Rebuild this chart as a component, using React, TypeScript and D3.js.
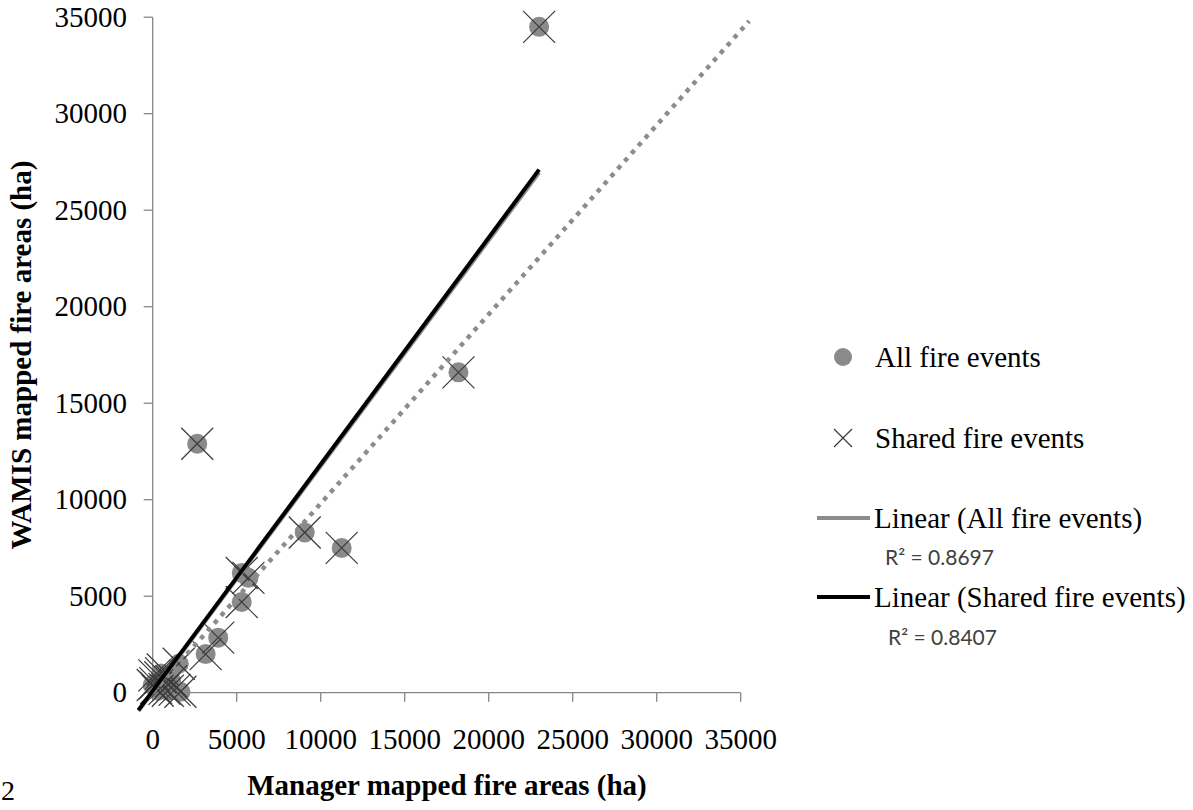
import React from "react";
import * as d3 from "d3";

// All fire events (manager ha, WAMIS ha)
const allX = [23000, 18200, 2650, 9050, 11250, 5300, 5700, 5300, 3900, 3150, 1550, 500, 1650, 900, 0, 150, 300, 450, 700, 1100, 1300, 200];
const allY = [34500, 16600, 12900, 8300, 7500, 6200, 5950, 4700, 2850, 2000, 1500, 1000, 50, 100, 400, 500, 100, 800, 200, 600, 150, 250];
// Shared fire events
const sharedX = [23000, 18200, 2650, 9050, 11250, 5300, 5700, 5300, 3900, 3150, 1550, 500, 1650, 900, 0, 150, 300, 450, 700, 1100, 1300, 200, 100, 600];
const sharedY = [34500, 16600, 12900, 8300, 7500, 6200, 5950, 4700, 2850, 2000, 1500, 1000, 50, 100, 400, 500, 100, 800, 200, 600, 150, 250, 900, 1200];
// Trend line end points and 1:1 reference line
const trendAllX = [-850, 23000];
const trendAllY = [-950, 26950];
const trendSharedX = [-850, 23000];
const trendSharedY = [-900, 27100];
const refX = [0, 35500];
const refY = [0, 34800];
const xTicks = [0, 5000, 10000, 15000, 20000, 25000, 30000, 35000];
const yTicks = [0, 5000, 10000, 15000, 20000, 25000, 30000, 35000];
const r2All = "R² = 0.8697";
const r2Shared = "R² = 0.8407";

const serif = "'Liberation Serif', 'Times New Roman', serif";
const sans = "Lato, 'Open Sans', sans-serif";

export default function App() {
  const x = d3.scaleLinear().domain([0, 35000]).range([152.7, 740.7]);
  const y = d3.scaleLinear().domain([0, 35000]).range([692.7, 17.2]);
  const line = d3.line<[number, number]>().x((d) => x(d[0])).y((d) => y(d[1]));
  const pts = (xs: number[], ys: number[]) => xs.map((v, i) => [v, ys[i]] as [number, number]);
  const axisColor = "#868686";
  const cs = 16;
  return (
    <svg width={1193} height={810} style={{ position: "absolute", left: 0, top: 0, background: "#fff" }}>
      {/* axes */}
      <line x1={x(0)} x2={x(35000)} y1={y(0)} y2={y(0)} stroke={axisColor} strokeWidth={1.3} />
      <line x1={x(0)} x2={x(0)} y1={y(0)} y2={y(35000)} stroke={axisColor} strokeWidth={1.3} />
      {xTicks.map((t) => (
        <g key={"xt" + t}>
          <line x1={x(t)} x2={x(t)} y1={y(0)} y2={y(0) + 9} stroke={axisColor} strokeWidth={1.3} />
          <text x={x(t)} y={749} textAnchor="middle" fontFamily={serif} fontSize={29} fill="#000">{t}</text>
        </g>
      ))}
      {yTicks.map((t) => (
        <g key={"yt" + t}>
          <line x1={x(0) - 9} x2={x(0)} y1={y(t)} y2={y(t)} stroke={axisColor} strokeWidth={1.3} />
          <text x={127} y={y(t) + 9.5} textAnchor="end" fontFamily={serif} fontSize={29} fill="#000">{t}</text>
        </g>
      ))}
      {/* circles */}
      {pts(allX, allY).map((d, i) => (
        <circle key={"c" + i} cx={x(d[0])} cy={y(d[1])} r={10} fill="#8a8a8a" />
      ))}
      {/* crosses */}
      {pts(sharedX, sharedY).map((d, i) => (
        <path key={"x" + i}
          d={`M${x(d[0]) - cs},${y(d[1]) - cs}L${x(d[0]) + cs},${y(d[1]) + cs}M${x(d[0]) - cs},${y(d[1]) + cs}L${x(d[0]) + cs},${y(d[1]) - cs}`}
          stroke="#3a3a3a" strokeWidth={1.2} fill="none" />
      ))}
      {/* 1:1 dotted line */}
      <path d={line(pts(refX, refY)) || ""} stroke="#8c8c8c" strokeWidth={4.5} strokeDasharray="4.5 5.8" fill="none" />
      {/* trend lines */}
      <path d={line(pts(trendAllX, trendAllY)) || ""} stroke="#8c8c8c" strokeWidth={4} fill="none" />
      <path d={line(pts(trendSharedX, trendSharedY)) || ""} stroke="#000" strokeWidth={4} fill="none" />
      {/* axis titles */}
      <text x={447} y={795} textAnchor="middle" fontFamily={serif} fontWeight="bold" fontSize={29} fill="#000">Manager mapped fire areas (ha)</text>
      <text transform="translate(31,355) rotate(-90)" textAnchor="middle" fontFamily={serif} fontWeight="bold" fontSize={29} fill="#000">WAMIS mapped fire areas (ha)</text>
      <text x={1} y={800} fontFamily={serif} fontSize={28} fill="#000">2</text>
      {/* legend */}
      <circle cx={843} cy={357} r={9} fill="#8a8a8a" />
      <text x={875} y={367} fontFamily={serif} fontSize={29} fill="#000">All fire events</text>
      <path d="M834,429L852,447M834,447L852,429" stroke="#3a3a3a" strokeWidth={1.2} fill="none" />
      <text x={875} y={448} fontFamily={serif} fontSize={29} fill="#000">Shared fire events</text>
      <line x1={817} x2={870} y1={518} y2={518} stroke="#8c8c8c" strokeWidth={4} />
      <text x={874} y={528} fontFamily={serif} fontSize={29} fill="#000">Linear (All fire events)</text>
      <text x={885} y={565} fontFamily={sans} fontSize={21} fill="#404040">{r2All}</text>
      <line x1={817} x2={870} y1={597} y2={597} stroke="#000" strokeWidth={4} />
      <text x={874} y={607} fontFamily={serif} fontSize={29} fill="#000">Linear (Shared fire events)</text>
      <text x={888} y={645} fontFamily={sans} fontSize={21} fill="#404040">{r2Shared}</text>
    </svg>
  );
}
